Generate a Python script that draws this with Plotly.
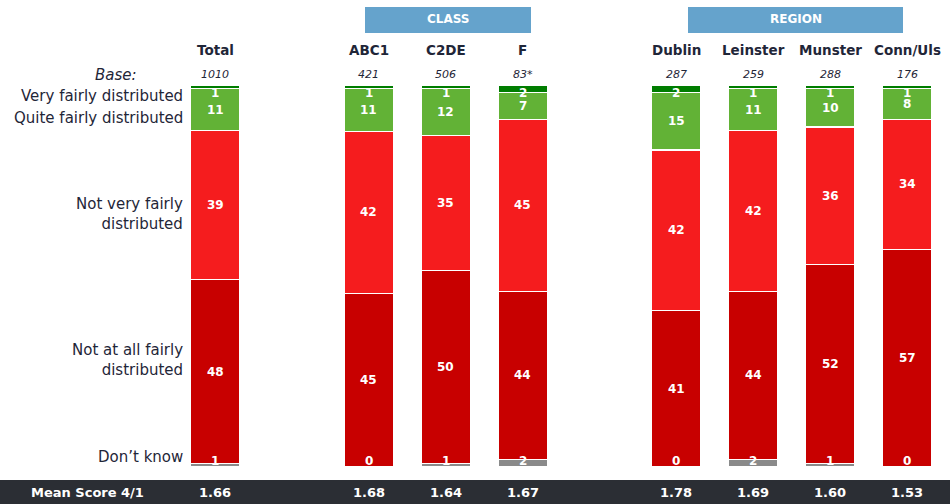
import plotly.graph_objects as go

groups = ["Total", "ABC1", "C2DE", "F", "Dublin", "Leinster", "Munster", "Conn/Uls"]
bases = ["1010", "421", "506", "83*", "287", "259", "288", "176"]
very_fairly = [1, 1, 1, 2, 2, 1, 1, 1]
quite_fairly = [11, 11, 12, 7, 15, 11, 10, 8]
not_very = [39, 42, 35, 45, 42, 42, 36, 34]
not_at_all = [48, 45, 50, 44, 41, 44, 52, 57]
dont_know = [1, 0, 1, 2, 0, 2, 1, 0]
mean_scores = ["1.66", "1.68", "1.64", "1.67", "1.78", "1.69", "1.60", "1.53"]

# layout: slot positions of the bars (gaps between groups)
slots = [0, 2, 3, 4, 6, 7, 8, 9]

W, H = 950, 504
FONT = "DejaVu Sans"
NUMFONT = "DejaVu Sans"
TXT = "#1f2638"

series = [
    ("Don't know", dont_know, "#8a8a8a"),
    ("Not at all fairly distributed", not_at_all, "#c80000"),
    ("Not very fairly distributed", not_very, "#f51c1e"),
    ("Quite fairly distributed", quite_fairly, "#62b236"),
    ("Very fairly distributed", very_fairly, "#007d00"),
]

totals = [sum(s[1][i] for s in series) for i in range(len(groups))]

fig = go.Figure()
annotations = []
cum = [0.0] * len(groups)
for k, (name, vals, col) in enumerate(series):
    shares = [v / t * 100 for v, t in zip(vals, totals)]
    fig.add_trace(go.Bar(
        x=slots, y=shares, name=name, width=0.64,
        marker=dict(color=col, line=dict(color="white", width=1.2)),
        hoverinfo="skip",
    ))
    for i, (v, s) in enumerate(zip(vals, shares)):
        if k == 0:
            yy = cum[i] + 1.6
        elif k == len(series) - 1:
            yy = cum[i] + s - 2.0
        else:
            yy = cum[i] + s / 2
        annotations.append(dict(
            x=slots[i], y=yy, xref="x", yref="y", text=str(v), showarrow=False,
            xanchor="center", yanchor="middle",
            font=dict(family=NUMFONT, size=12, color="white", weight="bold"),
        ))
        cum[i] += s

# x/y mapping so that pixel geometry matches
px_unit = 76.9
x0 = 215
xr = [-x0 / px_unit, (W - x0) / px_unit]
top_px, bot_px = 85, 467
py = (bot_px - top_px) / 100
yr = [-(H - bot_px) / py, 100 + top_px / py]

def px(x):
    return x / W

def py_(y):
    return 1 - y / H

# column headers and bases
for i, g in enumerate(groups):
    annotations.append(dict(x=slots[i], y=py_(50), xref="x", yref="paper", text=g, showarrow=False,
                            xanchor="center", yanchor="middle",
                            font=dict(family=FONT, size=13.5, color=TXT, weight="bold")))
    annotations.append(dict(x=slots[i], y=py_(74), xref="x", yref="paper", text="<i>%s</i>" % bases[i],
                            showarrow=False, xanchor="center", yanchor="middle",
                            font=dict(family=FONT, size=11, color=TXT)))
    annotations.append(dict(x=slots[i], y=py_(492), xref="x", yref="paper", text=mean_scores[i],
                            showarrow=False, xanchor="center", yanchor="middle",
                            font=dict(family=FONT, size=13, color="white", weight="bold")))

# left labels
left = [
    ("<i>Base:</i>", 75, 139),
    ("Very fairly distributed", 96, 185),
    ("Quite fairly distributed", 118, 185),
    ("Not very fairly<br>distributed", 214, 185),
    ("Not at all fairly<br>distributed", 360, 185),
    ("Don\u2019t know", 457, 185),
]
for t, y, xr_ in left:
    annotations.append(dict(x=px(xr_), y=py_(y), xref="paper", yref="paper", text=t, showarrow=False,
                            xanchor="right", yanchor="middle", align="right",
                            font=dict(family=FONT, size=15, color=TXT)))

annotations.append(dict(x=px(29), y=py_(492), xref="paper", yref="paper", text="Mean Score 4/1",
                        showarrow=False, xanchor="left", yanchor="middle",
                        font=dict(family=FONT, size=13, color="white", weight="bold")))

# group header boxes
shapes = []
for label, xa, xb in [("CLASS", 365, 531), ("REGION", 688, 903)]:
    shapes.append(dict(type="rect", xref="paper", yref="paper", x0=px(xa), x1=px(xb), y0=py_(33), y1=py_(7),
                       fillcolor="#65a3cc", line=dict(width=0), layer="below"))
    annotations.append(dict(x=px((xa + xb) / 2), y=py_(19), xref="paper", yref="paper", text=label,
                            showarrow=False, xanchor="center", yanchor="middle",
                            font=dict(family=FONT, size=12, color="white", weight="bold")))

shapes.append(dict(type="rect", xref="paper", yref="paper", x0=0, x1=1, y0=0, y1=py_(480),
                   fillcolor="#2b2e34", line=dict(width=0), layer="below"))

fig.update_layout(
    width=W, height=H, barmode="stack", showlegend=False,
    margin=dict(l=0, r=0, t=0, b=0),
    paper_bgcolor="white", plot_bgcolor="white",
    xaxis=dict(range=xr, visible=False, fixedrange=True),
    yaxis=dict(range=yr, visible=False, fixedrange=True),
    annotations=annotations, shapes=shapes,
)

fig.write_html("out.html", config={"displayModeBar": False},
               post_script="document.body.style.margin='0';document.body.style.overflow='hidden';")
